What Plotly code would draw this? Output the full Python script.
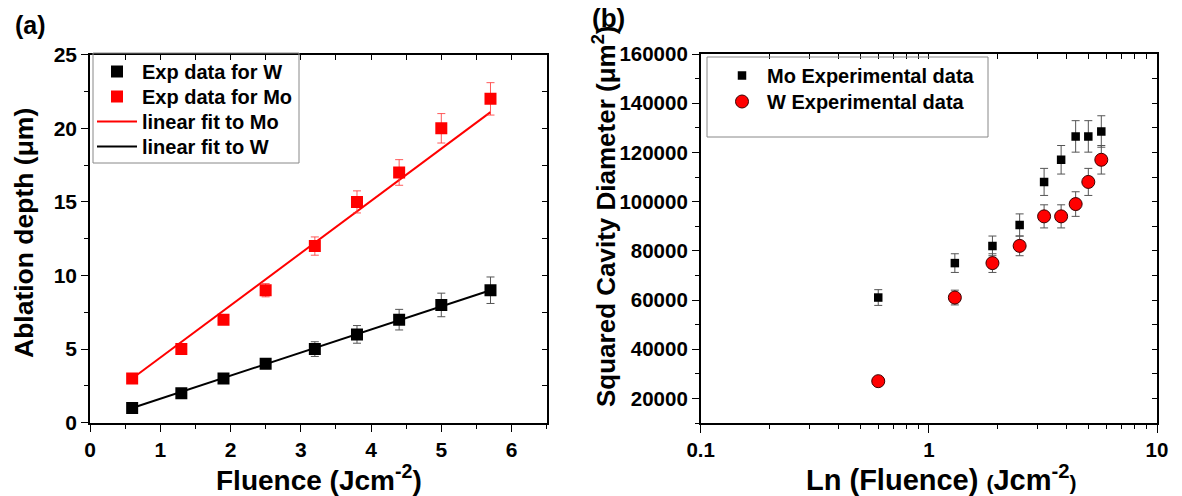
import plotly.graph_objects as go

W, H = 1182, 496
FONT = "Liberation Sans, Arial, sans-serif"

# ---------------- data ----------------
fluence = [0.6, 1.3, 1.9, 2.5, 3.2, 3.8, 4.4, 5.0, 5.7]

w_depth = [1, 2, 3, 4, 5, 6, 7, 8, 9]
w_depth_err = [0.15, 0.2, 0.2, 0.3, 0.5, 0.6, 0.7, 0.8, 0.9]
mo_depth = [3, 5, 7, 9, 12, 15, 17, 20, 22]
mo_depth_err = [0.15, 0.2, 0.3, 0.45, 0.62, 0.75, 0.87, 1.0, 1.1]

fit_x = [0.6, 5.7]
mo_fit = [3.0, 21.1]
w_fit = [1.0, 9.0]

mo_area = [61000, 75000, 82000, 90500, 108000, 117000, 126500, 126500, 128500]
mo_area_err = [3200, 3800, 4000, 4500, 5500, 5800, 6400, 6400, 6400]
w_area = [27000, 61000, 75000, 82000, 94000, 94000, 99000, 108000, 117000]
w_area_err = [1000, 3000, 3800, 4000, 4700, 4700, 5000, 5500, 5800]

a_xticks = [0, 1, 2, 3, 4, 5, 6]
a_yticks = [0, 5, 10, 15, 20, 25]
b_xticks = [0.1, 1, 10]
b_xticklabels = ["0.1", "1", "10"]
b_xminor = [0.2, 0.3, 0.4, 0.5, 0.6, 0.7, 0.8, 0.9, 2, 3, 4, 5, 6, 7, 8, 9]
b_yticks = [20000, 40000, 60000, 80000, 100000, 120000, 140000, 160000]


def px(p):
    return p / W


def py(p):
    return 1 - p / H


def f(size, color="black"):
    return dict(family=FONT, size=size, color=color, weight="bold")


def bold(vals):
    return ["<b>%s</b>" % v for v in vals]


fig = go.Figure()

# ---------------- panel (a) ----------------
fig.add_trace(go.Scatter(x=fit_x, y=mo_fit, mode="lines", name="linear fit to Mo",
                         line=dict(color="#ff0000", width=2), legend="legend3",
                         xaxis="x", yaxis="y"))
fig.add_trace(go.Scatter(x=fit_x, y=w_fit, mode="lines", name="linear fit to W",
                         line=dict(color="black", width=2), legend="legend4",
                         xaxis="x", yaxis="y"))
fig.add_trace(go.Scatter(x=fluence, y=w_depth, mode="markers", name="Exp data for W",
                         marker=dict(symbol="square", size=12, color="black"),
                         error_y=dict(type="data", array=w_depth_err, color="#555555",
                                      thickness=1, width=4),
                         legend="legend", xaxis="x", yaxis="y"))
fig.add_trace(go.Scatter(x=fluence, y=mo_depth, mode="markers", name="Exp data for Mo",
                         marker=dict(symbol="square", size=12, color="#ff0000"),
                         error_y=dict(type="data", array=mo_depth_err,
                                      color="rgba(255,60,60,0.85)", thickness=1, width=4),
                         legend="legend2", xaxis="x", yaxis="y"))

# ---------------- panel (b) ----------------
fig.add_trace(go.Scatter(x=fluence, y=mo_area, mode="markers", name="Mo Experimental data",
                         marker=dict(symbol="square", size=8.5, color="black"),
                         error_y=dict(type="data", array=mo_area_err, color="#555555",
                                      thickness=1, width=4),
                         legend="legend5", xaxis="x2", yaxis="y2"))
fig.add_trace(go.Scatter(x=fluence, y=w_area, mode="markers", name="W Experimental data",
                         marker=dict(symbol="circle", size=13, color="#ff0000",
                                     line=dict(color="#3a0000", width=1)),
                         error_y=dict(type="data", array=w_area_err, color="#555555",
                                      thickness=1, width=4),
                         legend="legend6", xaxis="x2", yaxis="y2"))

# dummy traces to realise the mirrored (inside-tick) axes
fig.add_trace(go.Scatter(x=[None], y=[None], xaxis="x3", yaxis="y3", showlegend=False,
                         hoverinfo="skip"))
fig.add_trace(go.Scatter(x=[None], y=[None], xaxis="x4", yaxis="y4", showlegend=False,
                         hoverinfo="skip"))

a_xdom = [px(90), px(546.7)]
a_ydom = [py(422.7), py(54.7)]
b_xdom = [px(700.7), px(1157)]
b_ydom = [py(423), py(54)]

line_kw = dict(showline=True, linecolor="black", linewidth=1.6, showgrid=False,
               zeroline=False, tickcolor="black", tickwidth=1.4, automargin=False)
mir_kw = dict(showticklabels=False, showgrid=False, zeroline=False,
              tickcolor="black", tickwidth=1.4, automargin=False)


def leg(x, top):
    return dict(x=px(x), y=py(top), xanchor="left", yanchor="top",
                bgcolor="rgba(0,0,0,0)", borderwidth=0, font=f(20), itemwidth=40)


fig.update_layout(
    width=W, height=H, margin=dict(l=0, r=0, t=0, b=0, pad=0, autoexpand=False),
    paper_bgcolor="white", plot_bgcolor="white",
    font=dict(family=FONT, color="black"),
    xaxis=dict(domain=a_xdom, range=[0, 6.5], anchor="y", tickvals=a_xticks,
               ticktext=bold(a_xticks),
               ticks="outside", ticklen=7, tickfont=f(21), mirror=True,
               minor=dict(dtick=0.5, tick0=0, ticks="outside", ticklen=4,
                          tickcolor="black", tickwidth=1.4),
               **line_kw),
    yaxis=dict(domain=a_ydom, range=[0, 25], anchor="x", tickvals=a_yticks,
               ticktext=bold(a_yticks),
               ticks="outside", ticklen=7, tickfont=f(21), mirror=True,
               minor=dict(dtick=2.5, tick0=0, ticks="outside", ticklen=4,
                          tickcolor="black", tickwidth=1.4),
               **line_kw),
    xaxis3=dict(overlaying="x", side="top", anchor="y3", range=[0, 6.5],
                dtick=0.5, tick0=0, ticks="inside", ticklen=5, **mir_kw),
    yaxis3=dict(overlaying="y", side="right", anchor="x3", range=[0, 25],
                dtick=2.5, tick0=0, ticks="inside", ticklen=5, **mir_kw),
    xaxis2=dict(domain=b_xdom, type="log", range=[-1, 1], anchor="y2",
                tickvals=b_xticks, ticktext=bold(b_xticklabels), ticks="outside",
                ticklen=8, tickfont=f(20.5), mirror=True,
                minor=dict(tickvals=b_xminor, ticks="outside", ticklen=4,
                           tickcolor="black", tickwidth=1.4),
                **line_kw),
    yaxis2=dict(domain=b_ydom, range=[10000, 160000], anchor="x2",
                tickvals=b_yticks, ticktext=bold(b_yticks), ticks="outside", ticklen=7,
                tickfont=f(20.5), mirror=True,
                minor=dict(dtick=10000, tick0=0, ticks="outside", ticklen=4,
                           tickcolor="black", tickwidth=1.4),
                **line_kw),
    xaxis4=dict(overlaying="x2", side="top", anchor="y4", type="log", range=[-1, 1],
                tickvals=b_xticks + b_xminor, ticks="inside", ticklen=5, **mir_kw),
    yaxis4=dict(overlaying="y2", side="right", anchor="x4", range=[10000, 160000],
                dtick=10000, tick0=0, ticks="inside", ticklen=5, **mir_kw),
    legend=leg(92, 52),
    legend2=leg(92, 77),
    legend3=leg(92, 102),
    legend4=leg(92, 127),
    legend5=leg(717, 56),
    legend6=leg(717, 82),
    shapes=[
        dict(type="rect", xref="paper", yref="paper", x0=px(93), x1=px(299),
             y0=py(163), y1=py(53), line=dict(color="#888888", width=1)),
        dict(type="rect", xref="paper", yref="paper", x0=px(707), x1=px(988),
             y0=py(137), y1=py(57), line=dict(color="#888888", width=1)),
    ],
    annotations=[
        dict(text="(a)", x=px(13), y=py(9), xref="paper", yref="paper",
             xanchor="left", yanchor="top", showarrow=False, font=f(25)),
        dict(text="Ablation depth (μm)", x=px(24), y=py(233), xref="paper",
             yref="paper", textangle=-90, xanchor="center", yanchor="middle",
             showarrow=False, font=f(26.5)),
        dict(text="Fluence (Jcm<sup>-2</sup>)", x=px(319), y=py(478), xref="paper",
             yref="paper", xanchor="center", yanchor="middle", showarrow=False,
             font=f(28)),
        dict(text="Squared Cavity Diameter (μm<sup>2</sup>)", x=px(604), y=py(216),
             xref="paper", yref="paper", textangle=-90, xanchor="center",
             yanchor="middle", showarrow=False, font=f(26)),
        dict(text="Ln (Fluence) <span style='font-size:21px'>(</span>Jcm<sup>-2</sup>"
                  "<span style='font-size:21px'>)</span>",
             x=px(941), y=py(478), xref="paper", yref="paper", xanchor="center",
             yanchor="middle", showarrow=False, font=f(29)),
        dict(text="(b)", x=px(590), y=py(1), xref="paper", yref="paper",
             xanchor="left", yanchor="top", showarrow=False, font=f(26)),
    ],
)

fig.write_html("out.html",
               config={"displayModeBar": False},
               post_script="document.body.style.margin='0px';"
                           "document.body.style.overflow='hidden';")
